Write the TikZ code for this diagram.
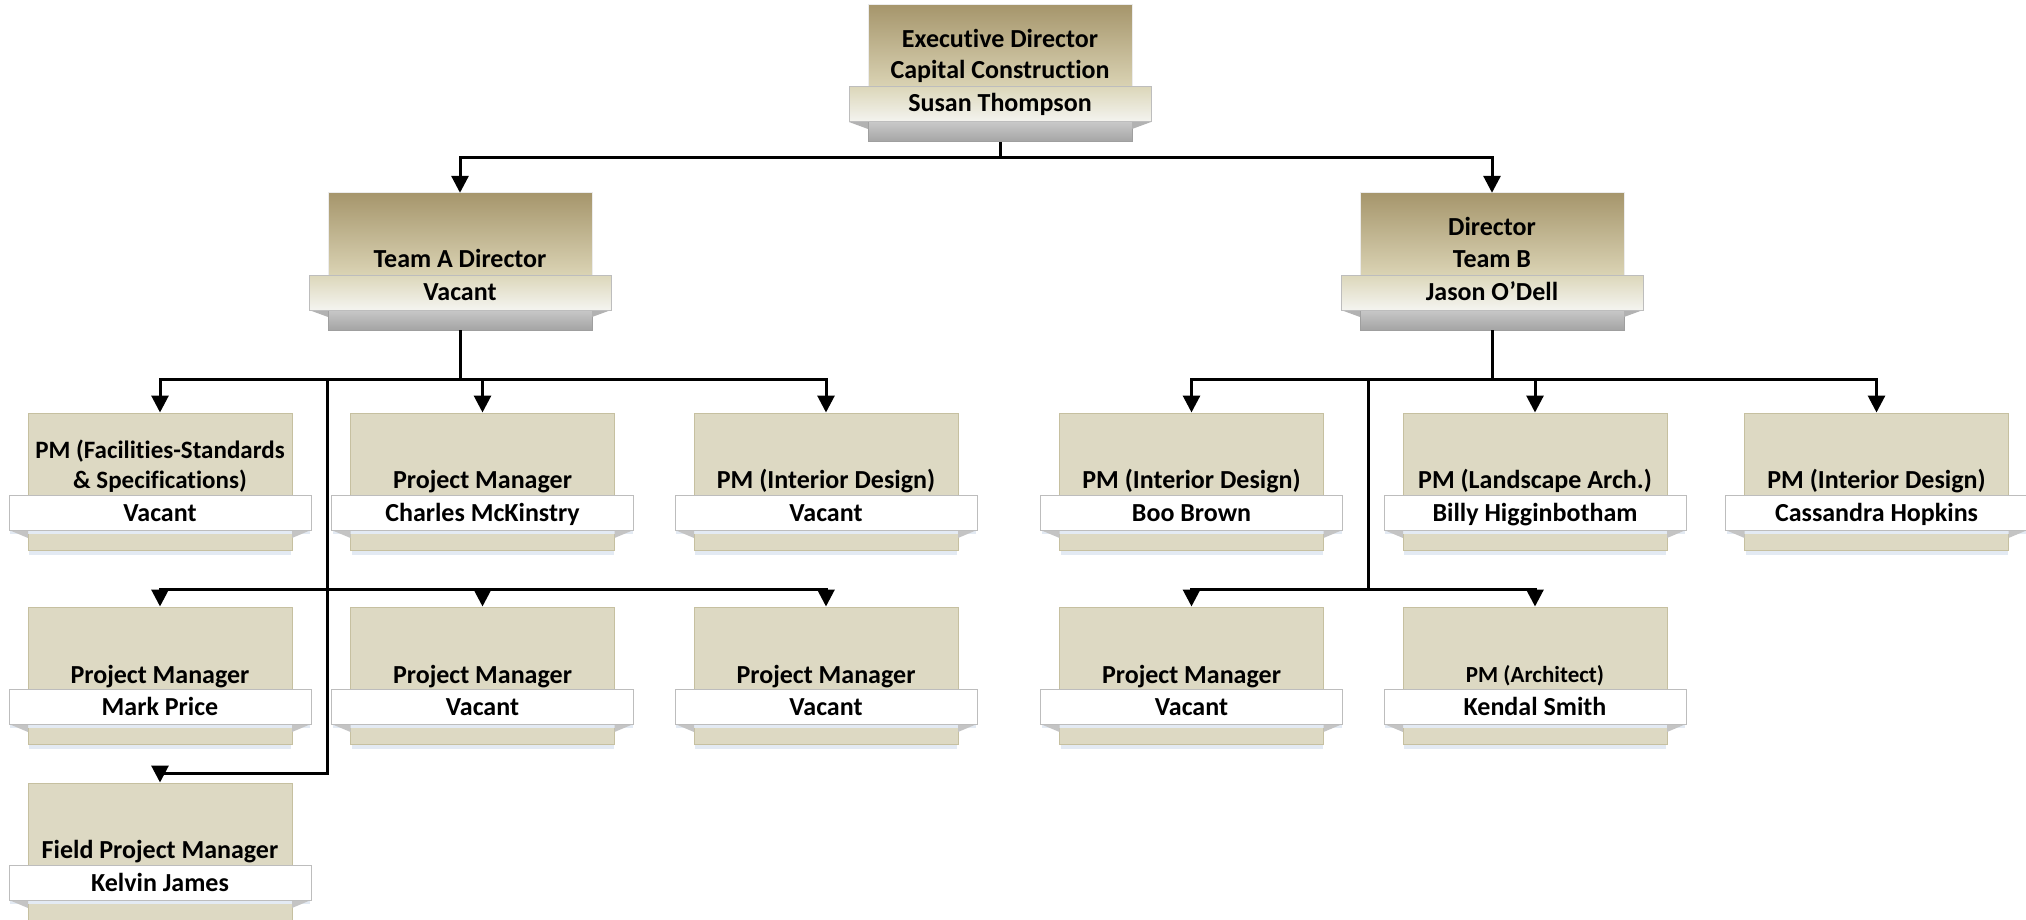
\documentclass[tikz,border=0pt]{standalone}
\usepackage{fontspec}
\setmainfont{Carlito}[Ligatures=NoCommon]
\usetikzlibrary{arrows.meta}
\definecolor{tanTop}{HTML}{A6966C}
\definecolor{tanBot}{HTML}{DAD3B4}
\definecolor{barTop}{HTML}{DCD7BA}
\definecolor{barBot}{HTML}{F4F4F0}
\definecolor{pmFill}{HTML}{DDD9C3}
\definecolor{pmLine}{HTML}{C6C0A0}
\definecolor{greyTop}{HTML}{C8C8C8}
\definecolor{greyBot}{HTML}{A4A4A4}
\definecolor{wingCol}{HTML}{C4C4C4}
\definecolor{barLine}{HTML}{BDBDBD}
\definecolor{glowCol}{HTML}{E3EAF3}
\tikzset{
  conn/.style={line width=3pt, draw=black},
  arr/.style={conn, -{Triangle[width=17pt,length=17pt]}},
  lbl/.style={font=\fontsize{26}{30}\selectfont\bfseries, anchor=base, inner sep=0pt, text=black},
  lblmid/.style={lbl, font=\fontsize{25}{29}\selectfont\bfseries},
  lblsmall/.style={lbl, font=\fontsize{23}{27}\selectfont\bfseries},
  pmbox/.style={draw=pmLine, line width=1pt, fill=pmFill, minimum width=264pt, minimum height=137pt, inner sep=0pt},
  cardframe/.style={minimum width=264pt, minimum height=137pt, inner sep=0pt},
  namebar/.style={draw=barLine, line width=1pt, fill=white},
  dirbar/.style={draw=barLine, line width=1pt, top color=barTop, bottom color=barBot},
  dirtop/.style={draw=white!85!gray, line width=1pt, top color=tanTop, bottom color=tanBot},
  greybar/.style={draw=gray!75, line width=1pt, top color=greyTop, bottom color=greyBot},
  wing/.style={fill=wingCol}
}
% #1 name, #2 centre x, #3 top y, #4 person
\newcommand\pmcard[4]{%
  \fill[glowCol] (#2-131,#3+137) rectangle (#2+131,#3+142);
  \node[pmbox] (#1) at (#2,#3+68.5) {};
  \fill[glowCol] (#2-150,#3+117) rectangle (#2+150,#3+121);
  \fill[wing] (#2-151,#3+117) -- (#2-132,#3+117) -- (#2-132,#3+125) -- cycle;
  \fill[wing] (#2+151,#3+117) -- (#2+132,#3+117) -- (#2+132,#3+125) -- cycle;
  \draw[namebar] (#2-151,#3+82) rectangle (#2+151,#3+117);
  \node[lbl] (#1-n) at (#2,#3+108) {#4};
}
\newcommand\dircard[4]{%
  \node[cardframe] (#1) at (#2,#3+68.5) {};
  \shade[dirtop] (#2-132,#3) rectangle (#2+132,#3+82);
  \shade[greybar] (#2-132,#3+117) rectangle (#2+132,#3+137);
  \fill[gray!60] (#2-151,#3+117) -- (#2-132,#3+117) -- (#2-132,#3+124) -- cycle;
  \fill[gray!60] (#2+151,#3+117) -- (#2+132,#3+117) -- (#2+132,#3+124) -- cycle;
  \shade[dirbar] (#2-151,#3+82) rectangle (#2+151,#3+117);
  \node[lbl] (#1-n) at (#2,#3+107) {#4};
}
\begin{document}
\begin{tikzpicture}[x=1pt,y=-1pt]
\useasboundingbox (0,0) rectangle (2026,920);
\fill[white] (0,0) rectangle (2026,920);

% directors
\dircard{exec}{1000}{5}{Susan Thompson}
\node[lbl] (exec-t1) at (1000,47.5) {Executive Director};
\node[lbl] (exec-t2) at (1000,79) {Capital Construction};
\dircard{ta}{460}{193}{Vacant}
\node[lbl] (ta-t) at (460,267) {Team A Director};
\dircard{tb}{1492}{193}{Jason O’Dell}
\node[lbl] (tb-t1) at (1492,235) {Director};
\node[lbl] (tb-t2) at (1492,267) {Team B};

% Team A cards
\pmcard{a11}{160}{413}{Vacant}
\node[lblmid] (a11-t1) at (160,458) {PM (Facilities-Standards};
\node[lblmid] (a11-t2) at (160,488) {\& Specifications)};
\pmcard{a12}{482.5}{413}{Charles McKinstry}
\node[lbl] (a12-t) at (482.5,488) {Project Manager};
\pmcard{a13}{826}{413}{Vacant}
\node[lbl] (a13-t) at (826,488) {PM (Interior Design)};
\pmcard{a21}{160}{607}{Mark Price}
\node[lbl] (a21-t) at (160,683) {Project Manager};
\pmcard{a22}{482.5}{607}{Vacant}
\node[lbl] (a22-t) at (482.5,683) {Project Manager};
\pmcard{a23}{826}{607}{Vacant}
\node[lbl] (a23-t) at (826,683) {Project Manager};
\pmcard{a31}{160}{783}{Kelvin James}
\node[lbl] (a31-t) at (160,858) {Field Project Manager};

% Team B cards
\pmcard{b11}{1191.5}{413}{Boo Brown}
\node[lbl] (b11-t) at (1191.5,488) {PM (Interior Design)};
\pmcard{b12}{1535}{413}{Billy Higginbotham}
\node[lbl] (b12-t) at (1535,488) {PM (Landscape Arch.)};
\pmcard{b13}{1876.5}{413}{Cassandra Hopkins}
\node[lbl] (b13-t) at (1876.5,488) {PM (Interior Design)};
\pmcard{b21}{1191.5}{607}{Vacant}
\node[lbl] (b21-t) at (1191.5,683) {Project Manager};
\pmcard{b22}{1535}{607}{Kendal Smith}
\node[lblsmall] (b22-t) at (1535,682) {PM (Architect)};

% connectors
\coordinate (j0) at (1000,158);
\draw[conn] (exec.south) -- (j0);
\draw[arr] (j0) -| (ta.north);
\draw[arr] (j0) -| (tb.north);

\coordinate (ja) at (460,379);
\coordinate (va) at (327,379);
\coordinate (va2) at (327,589);
\coordinate (va3) at (327,773);
\draw[conn] (ta.south) -- (ja);
\draw[arr] (ja) -| (a11.north);
\draw[arr] (ja) -| (a12.north);
\draw[arr] (ja) -| (a13.north);
\draw[arr] (va) -- (va3) -| (a31.north);
\draw[arr] (va2) -| (a21.north);
\draw[arr] (va2) -| (a22.north);
\draw[arr] (va2) -| (a23.north);

\coordinate (jb) at (1492,379);
\coordinate (vb) at (1368,379);
\coordinate (vb2) at (1368,589);
\draw[conn] (tb.south) -- (jb);
\draw[arr] (jb) -| (b11.north);
\draw[arr] (jb) -| (b12.north);
\draw[arr] (jb) -| (b13.north);
\draw[conn] (vb) -- (vb2);
\draw[arr] (vb2) -| (b21.north);
\draw[arr] (vb2) -| (b22.north);
\end{tikzpicture}
\end{document}
